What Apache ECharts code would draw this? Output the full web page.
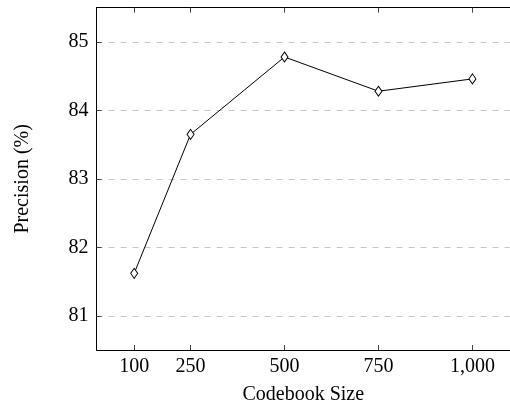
<!DOCTYPE html>
<html lang="en">
  <head>
    <meta charset="UTF-8" />
    <title>Precision vs Codebook Size</title>
    <style>
      html, body { margin: 0; padding: 0; background: #fff; }
      #chart { width: 510px; height: 410px; }
    </style>
  </head>
  <body>
    <div id="chart"></div>
    <script src="https://cdn.jsdelivr.net/npm/echarts@6/dist/echarts.min.js"></script>
    <script>
      // codebook sizes on the x axis
      var codebookSizes = [100, 250, 500, 750, 1000];
      // precision (%)
      var precision = [81.62, 83.65, 84.78, 84.28, 84.46];

      var serif = '"Liberation Serif", "DejaVu Serif", serif';
      var fontSize = 20;

      var points = codebookSizes.map(function (x, i) { return [x, precision[i]]; });

      var chart = echarts.init(document.getElementById('chart'));

      chart.setOption({
        animation: false,
        grid: { left: 96.6, right: -1, top: 7.7, bottom: 57.7 },
        xAxis: [
          {
            type: 'value',
            min: 0,
            max: 1100,
            name: 'Codebook Size',
            nameLocation: 'middle',
            nameGap: 35,
            nameTextStyle: { fontFamily: serif, fontSize: fontSize, color: '#000' },
            axisLine: { lineStyle: { color: '#000', width: 1 } },
            axisTick: { inside: true, length: 5, customValues: codebookSizes, lineStyle: { color: '#444' } },
            axisLabel: {
              customValues: codebookSizes,
              margin: 7,
              fontFamily: serif,
              fontSize: fontSize,
              color: '#000',
              formatter: function (v) { return v >= 1000 ? v.toLocaleString('en-US') : String(v); }
            },
            splitLine: { show: false }
          },
          {
            type: 'value',
            position: 'top',
            min: 0,
            max: 1100,
            axisLine: { lineStyle: { color: '#000', width: 1 } },
            axisTick: { inside: true, length: 5, customValues: codebookSizes, lineStyle: { color: '#444' } },
            axisLabel: { show: false },
            splitLine: { show: false }
          }
        ],
        yAxis: {
          type: 'value',
          min: 80.5,
          max: 85.5,
          splitNumber: 5,
          name: 'Precision (%)',
          nameLocation: 'middle',
          nameRotate: 90,
          nameGap: 64,
          nameTextStyle: { fontFamily: serif, fontSize: fontSize, color: '#000' },
          axisLine: { show: true, lineStyle: { color: '#000', width: 1 } },
          axisTick: { show: true, inside: true, length: 5, lineStyle: { color: '#444' } },
          axisLabel: {
            margin: 8,
            showMinLabel: false,
            showMaxLabel: false,
            fontFamily: serif,
            fontSize: fontSize,
            color: '#000',
            formatter: function (v) { return Number.isInteger(v) ? String(v) : ''; }
          },
          splitLine: { show: true, lineStyle: { color: '#c8c8c8', type: [6, 6], width: 1 } }
        },
        series: [
          {
            type: 'line',
            data: points,
            symbol: 'diamond',
            symbolSize: [7, 10],
            itemStyle: { color: '#fff', borderColor: '#000', borderWidth: 1 },
            lineStyle: { color: '#000', width: 1 }
          }
        ]
      });
    </script>
  </body>
</html>
